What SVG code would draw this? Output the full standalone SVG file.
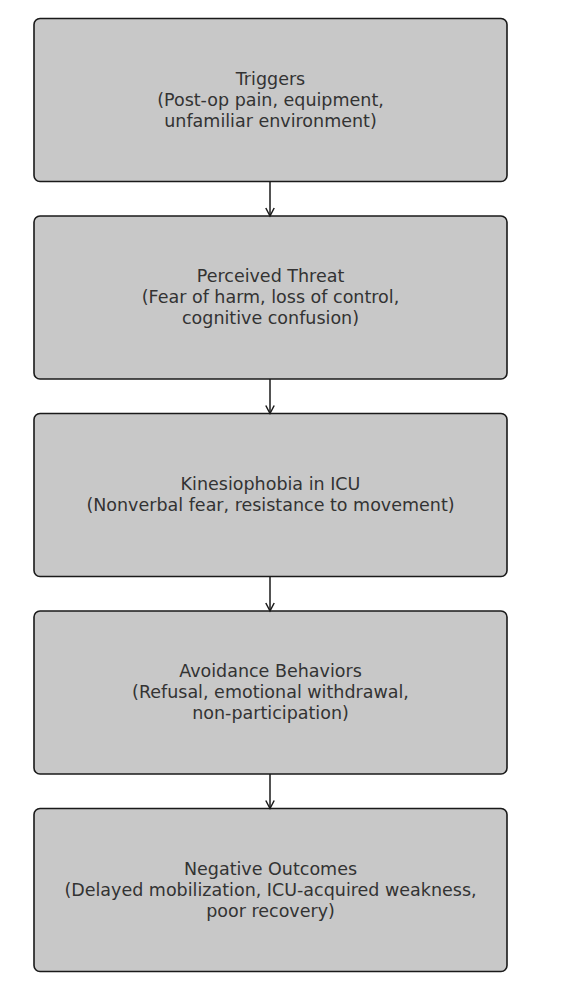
<svg xmlns="http://www.w3.org/2000/svg" width="570" height="994" viewBox="0 0 570 994">
<style>
.box{fill:#c8c8c8;stroke:#1a1a1a;stroke-width:1.6}
.t{font-family:"DejaVu Sans",sans-serif;font-size:17.5px;fill:#333;text-anchor:middle}
.c{stroke:#1a1a1a;stroke-width:1.5;fill:none}
</style>
<defs>
<marker id="ah" markerWidth="12" markerHeight="12" refX="10" refY="6" orient="auto" markerUnits="userSpaceOnUse">
<path d="M2,1.8 L10,6 L2,10.2" fill="none" stroke="#1a1a1a" stroke-width="1.5"/>
</marker>
</defs>
<rect width="570" height="994" fill="#fff"/>
<g id="n1"><rect class="box" x="34" y="18.5" width="473" height="163" rx="6"/>
<text class="t" x="270.5" y="85">Triggers</text><text class="t" x="270.5" y="106">(Post-op pain, equipment,</text><text class="t" x="270.5" y="127">unfamiliar environment)</text></g>
<g id="n2"><rect class="box" x="34" y="216" width="473" height="163" rx="6"/>
<text class="t" x="270.5" y="282">Perceived Threat</text><text class="t" x="270.5" y="303">(Fear of harm, loss of control,</text><text class="t" x="270.5" y="324">cognitive confusion)</text></g>
<g id="n3"><rect class="box" x="34" y="413.5" width="473" height="163" rx="6"/>
<text class="t" x="270.5" y="490">Kinesiophobia in ICU</text><text class="t" x="270.5" y="511">(Nonverbal fear, resistance to movement)</text></g>
<g id="n4"><rect class="box" x="34" y="611" width="473" height="163" rx="6"/>
<text class="t" x="270.5" y="677">Avoidance Behaviors</text><text class="t" x="270.5" y="698">(Refusal, emotional withdrawal,</text><text class="t" x="270.5" y="719">non-participation)</text></g>
<g id="n5"><rect class="box" x="34" y="808.5" width="473" height="163" rx="6"/>
<text class="t" x="270.5" y="875">Negative Outcomes</text><text class="t" x="270.5" y="896">(Delayed mobilization, ICU-acquired weakness,</text><text class="t" x="270.5" y="917">poor recovery)</text></g>
<g id="connectors">
<line class="c" x1="270" y1="181.5" x2="270" y2="216" marker-end="url(#ah)"/>
<line class="c" x1="270" y1="379" x2="270" y2="413.5" marker-end="url(#ah)"/>
<line class="c" x1="270" y1="576.5" x2="270" y2="611" marker-end="url(#ah)"/>
<line class="c" x1="270" y1="774" x2="270" y2="808.5" marker-end="url(#ah)"/>
</g>
</svg>
